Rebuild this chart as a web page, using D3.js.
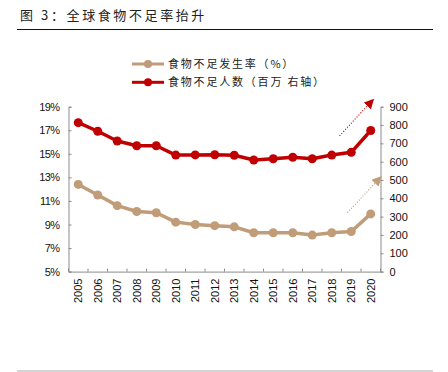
<!DOCTYPE html>
<html>
<head>
<meta charset="utf-8">
<script src="https://cdn.jsdelivr.net/npm/d3@7"></script>
<style>
body { margin: 0; background: #fff; }
svg { display: block; }
</style>
</head>
<body>
<script>
var w = 448;
var h = 372;

// data
var years = ["2005", "2006", "2007", "2008", "2009", "2010", "2011", "2012",
    "2013", "2014", "2015", "2016", "2017", "2018", "2019", "2020"];
var rate = [12.4, 11.5, 10.6, 10.1, 10.0, 9.2, 9.0, 8.9, 8.8, 8.3, 8.3, 8.3, 8.1, 8.3, 8.4, 9.9];
var people = [813, 766, 713, 687, 687, 636, 637, 638, 635, 609, 616, 624, 616, 636, 651, 770];
var leftTicks = [5, 7, 9, 11, 13, 15, 17, 19];
var rightTicks = [0, 100, 200, 300, 400, 500, 600, 700, 800, 900];
var seriesNames = ["食物不足发生率（%）", "食物不足人数（百万 右轴）"];
var title = "图 3：全球食物不足率抬升";
// trend arrows: [start index, start value, end index, end value]
var redArrow = [13.9, 741, 15.6, 936];
var tanArrow = [14.3, 10.0, 16.0, 13.0];

var red = "#c00000";
var tan = "#c19c78";
var axisColor = "#8c8c8c";

var svg = d3.select("body")
    .append("svg")
    .attr("width", w)
    .attr("height", h);

// title + rules
svg.append("text")
    .attr("x", 20)
    .attr("y", 20)
    .attr("font-family", "Noto Sans CJK SC")
    .attr("font-size", "13px")
    .attr("letter-spacing", "2.6px")
    .attr("fill", "#222")
    .text(title);
svg.append("line")
    .attr("x1", 17).attr("x2", 433)
    .attr("y1", 29.5).attr("y2", 29.5)
    .attr("stroke", "#111").attr("stroke-width", 1);
svg.append("line")
    .attr("x1", 17).attr("x2", 433)
    .attr("y1", 371).attr("y2", 371)
    .attr("stroke", "#aaa").attr("stroke-width", 1);

var plotL = 68.5, plotR = 380.5, plotT = 106.7, plotB = 271.6;

var x = d3.scaleBand().domain(years).range([plotL, plotR]);
var xi = d3.scaleLinear().domain([0, years.length]).range([plotL, plotR]);
var yL = d3.scaleLinear().domain([5, 19]).range([plotB, plotT]);
var yR = d3.scaleLinear().domain([0, 900]).range([plotB, plotT]);

function cx(d, i) { return x(years[i]) + x.bandwidth() / 2; }

// axes
var gL = svg.append("g")
    .attr("transform", "translate(" + plotL + ",0)")
    .call(d3.axisLeft(yL).tickValues(leftTicks).tickSize(-3).tickPadding(9)
        .tickFormat(function (d) { return d + "%"; }));
var gR = svg.append("g")
    .attr("transform", "translate(" + plotR + ",0)")
    .call(d3.axisRight(yR).tickValues(rightTicks).tickSize(3).tickPadding(6));
var gB = svg.append("g")
    .attr("transform", "translate(0," + plotB + ")")
    .call(d3.axisBottom(x).tickSize(0).tickFormat(""));

[gL, gR, gB].forEach(function (g) {
    g.select(".domain").attr("stroke", axisColor);
    g.selectAll(".tick line").attr("stroke", axisColor);
    g.selectAll("text")
        .attr("font-family", "Liberation Sans, Arial")
        .attr("font-size", "11px")
        .attr("fill", "#111");
});
gL.selectAll("text").attr("letter-spacing", "-0.6px");

// inner ticks between categories on the x axis
svg.append("g").selectAll("line")
    .data(d3.range(years.length + 1))
    .enter()
    .append("line")
    .attr("x1", function (d) { return xi(d); })
    .attr("x2", function (d) { return xi(d); })
    .attr("y1", plotB)
    .attr("y2", plotB - 3)
    .attr("stroke", axisColor);

svg.append("g").selectAll("text")
    .data(years)
    .enter()
    .append("text")
    .attr("transform", function (d) {
        return "translate(" + (x(d) + x.bandwidth() / 2) + "," + (plotB + 7) + ") rotate(-90)";
    })
    .attr("text-anchor", "end")
    .attr("dy", "0.36em")
    .attr("font-family", "Liberation Sans, Arial")
    .attr("font-size", "11px")
    .attr("fill", "#111")
    .text(function (d) { return d; });

// series
function drawSeries(values, yScale, color) {
    var line = d3.line()
        .x(cx)
        .y(function (d) { return yScale(d); });
    svg.append("path")
        .datum(values)
        .attr("d", line)
        .attr("fill", "none")
        .attr("stroke", color)
        .attr("stroke-width", 3.5)
        .attr("stroke-linejoin", "round");
    svg.append("g").selectAll("circle")
        .data(values)
        .enter()
        .append("circle")
        .attr("cx", cx)
        .attr("cy", function (d) { return yScale(d); })
        .attr("r", 4.5)
        .attr("fill", color);
}
drawSeries(rate, yL, tan);
drawSeries(people, yR, red);

// arrows
var defs = svg.append("defs");
function marker(id, color) {
    defs.append("marker")
        .attr("id", id)
        .attr("viewBox", "0 0 10 10")
        .attr("refX", 8).attr("refY", 5)
        .attr("markerWidth", 10).attr("markerHeight", 10)
        .attr("markerUnits", "userSpaceOnUse")
        .attr("orient", "auto")
        .append("path")
        .attr("d", "M0,0 L10,5 L0,10 Z")
        .attr("fill", color);
}
marker("arRed", red);
marker("arTan", tan);

function arrow(a, yScale, color, id) {
    svg.append("line")
        .attr("x1", xi(a[0])).attr("y1", yScale(a[1]))
        .attr("x2", xi(a[2])).attr("y2", yScale(a[3]))
        .attr("stroke", color)
        .attr("stroke-width", 1.2)
        .attr("stroke-dasharray", "1,1.8")
        .attr("marker-end", "url(#" + id + ")");
}
arrow(redArrow, yR, red, "arRed");
arrow(tanArrow, yL, tan, "arTan");

// legend
var legend = svg.append("g").selectAll("g")
    .data(seriesNames)
    .enter()
    .append("g")
    .attr("transform", function (d, i) { return "translate(132," + (64 + i * 18.3) + ")"; });
legend.append("line")
    .attr("x1", 0).attr("x2", 32)
    .attr("stroke", function (d, i) { return i ? red : tan; })
    .attr("stroke-width", 3);
legend.append("circle")
    .attr("cx", 16).attr("r", 4)
    .attr("fill", function (d, i) { return i ? red : tan; });
legend.append("text")
    .attr("x", 36)
    .attr("dy", "0.36em")
    .attr("font-family", "Noto Sans CJK SC")
    .attr("font-size", "11px")
    .attr("letter-spacing", "1.8px")
    .attr("fill", "#222")
    .text(function (d) { return d; });
</script>
</body>
</html>
